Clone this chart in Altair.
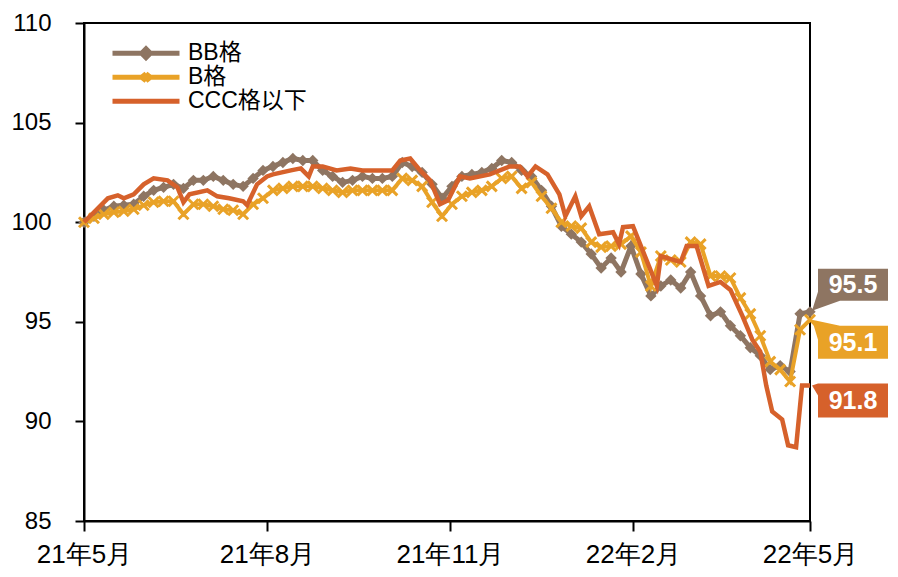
import altair as alt
import pandas as pd

# ---------------- data ----------------
series_names = ["BB格", "B格", "CCC格以下"]
series_colors = ["#8E7562", "#E9A227", "#D6612B"]

start_date = "2021-05-01"

# BB and B read every 5 days from the start date
grid_days = list(range(0, 366, 5))
bb_values = [
    100.0, 100.3, 100.6, 100.8, 100.85, 100.9, 101.3, 101.6, 101.75, 101.9,
    101.7, 102.1, 102.1, 102.3, 102.1, 101.9, 101.8, 102.2, 102.6, 102.8,
    103.0, 103.2, 103.1, 103.1, 102.6, 102.3, 102.0, 102.1, 102.3, 102.2,
    102.2, 102.3, 103.0, 102.8, 102.5, 101.9, 101.2, 101.8, 102.3, 102.4,
    102.5, 102.7, 103.1, 103.0, 102.6, 102.3, 101.6, 100.8, 99.8, 99.4,
    99.0, 98.4, 97.7, 98.2, 97.5, 98.8, 97.4, 96.3, 96.8, 97.1,
    96.7, 97.5, 96.3, 95.3, 95.5, 94.8, 94.3, 93.7, 93.3, 92.6,
    92.8, 92.5, 95.4, 95.5,
]
b_values = [
    100.0, 100.2, 100.4, 100.5, 100.55, 100.65, 100.85, 101.0, 101.05, 101.05,
    100.4, 100.9, 100.9, 100.8, 100.65, 100.6, 100.4, 100.9, 101.2, 101.6,
    101.7, 101.8, 101.8, 101.8, 101.7, 101.6, 101.5, 101.6, 101.6, 101.6,
    101.6, 101.6, 102.2, 102.1, 101.8, 101.0, 100.3, 100.9, 101.3, 101.5,
    101.6, 101.8, 102.2, 102.3, 101.7, 102.0, 101.3, 100.7, 100.0, 99.8,
    99.7, 99.0, 98.75, 98.8, 98.9, 99.3, 98.5, 96.8, 98.3, 98.1,
    98.0, 99.0, 98.9, 97.3, 97.3, 97.2, 96.2, 95.4, 94.3, 93.0,
    92.6, 92.0, 94.6, 95.1,
]

# CCC read at its own turning points (days after the start date)
ccc_days = [
    0, 4, 12, 17, 20, 25, 30, 35, 42, 47, 50, 53, 62, 67, 73, 80, 82, 87, 92, 95,
    104, 109, 113, 115, 120, 127, 134, 140, 147, 155, 159, 164, 169, 174, 179, 183,
    189, 194, 204, 214, 219, 223, 227, 233, 239, 242, 247, 250, 254, 259, 266, 269,
    271, 276, 280, 288, 290, 300, 303, 308, 314, 320, 325, 331, 336, 340, 343, 346,
    351, 354, 358, 361, 365,
]
ccc_values = [
    100.0, 100.4, 101.2, 101.35, 101.2, 101.4, 101.9, 102.2, 102.1, 101.75, 101.0,
    101.4, 101.6, 101.3, 101.2, 101.05, 100.85, 101.9, 102.3, 102.4,
    102.6, 102.7, 102.3, 102.8, 102.8, 102.6, 102.7, 102.6, 102.6, 102.6, 103.1,
    103.2, 102.6, 102.1, 100.9, 101.1,
    102.3, 102.2, 102.4, 102.8, 102.8, 102.3, 102.8, 102.4, 101.4, 100.3, 101.3,
    100.3, 100.8, 99.4, 99.5, 98.9,
    99.75, 99.8, 98.8, 96.8, 98.3, 98.0, 98.8, 98.8, 96.8, 97.0, 96.6, 95.3, 94.1,
    93.5, 91.8, 90.5,
    90.1, 88.8, 88.7, 91.8, 91.8,
]

x_tick_dates = [(2021, 5), (2021, 8), (2021, 11), (2022, 2), (2022, 5)]
y_ticks = [85, 90, 95, 100, 105, 110]

# ---------------- styles ----------------
NARROW = "Liberation Sans Narrow, Arial Narrow, Liberation Sans, Arial"
SANS = "Liberation Sans, Arial, Noto Sans CJK SC"
S = 100  # callout path unit in px (size = (2*S)^2)
callout_paths = {
    "BB格": "M0.02,-0.01L0.08,-0.2L0.08,-0.43L0.78,-0.43L0.78,-0.11L0.3,-0.11Z",
    "B格": "M0.02,0L0.3,0.06L0.78,0.06L0.78,0.39L0.08,0.39L0.08,0.2Z",
    "CCC格以下": "M0.02,0L0.08,-0.02L0.78,-0.02L0.78,0.32L0.08,0.32L0.08,0.1Z",
}
callout_text_offset = {"BB格": (43, -27), "B格": (43, 23), "CCC格以下": (43, 15)}
legend_paths = [
    "M-1,0H1M-0.13,0L0,-0.13L0.13,0L0,0.13Z",
    "M-1,0H1M-0.1,-0.12L0.1,0.12M-0.1,0.12L0.1,-0.12",
    "M-1,0H1",
]
x_marker_path = "M-1,-1L1,1M-1,1L1,-1"


def frame(name, days, values):
    return pd.DataFrame({
        "date": pd.Timestamp(start_date) + pd.to_timedelta(days, unit="D"),
        "series": name,
        "value": values,
    })


bb_df = frame(series_names[0], grid_days, bb_values)
b_df = frame(series_names[1], grid_days, b_values)
ccc_df = frame(series_names[2], ccc_days, ccc_values)
all_df = pd.concat([bb_df, b_df, ccc_df], ignore_index=True)

x_enc = alt.X(
    "date:T",
    scale=alt.Scale(domain=[alt.DateTime(year=2021, month=5, date=1),
                            alt.DateTime(year=2022, month=5, date=1)]),
    axis=alt.Axis(
        values=[alt.DateTime(year=y, month=m, date=1) for y, m in x_tick_dates],
        format="%y年%-m月", formatType="time", title=None,
        labelFont=NARROW, labelFontSize=26, labelPadding=10, tickSize=10,
        labelFlush=False, labelOverlap=False, labelBound=False,
    ),
)
y_enc = alt.Y(
    "value:Q",
    scale=alt.Scale(domain=[85, 110], nice=False, zero=False),
    axis=alt.Axis(values=y_ticks, title=None, labelFont=NARROW, labelFontSize=24,
                  labelPadding=24, tickSize=9),
)

bb_line = alt.Chart(bb_df).mark_line(color=series_colors[0], strokeWidth=5).encode(x=x_enc, y=y_enc)
bb_pts = alt.Chart(bb_df).mark_point(shape="diamond", filled=True, size=130, opacity=1,
                                     color=series_colors[0]).encode(x=x_enc, y=y_enc)
b_line = alt.Chart(b_df).mark_line(color=series_colors[1], strokeWidth=4).encode(x=x_enc, y=y_enc)
b_pts = alt.Chart(b_df).mark_point(shape=x_marker_path, filled=False, size=100, opacity=1,
                                   strokeWidth=3, color=series_colors[1]).encode(x=x_enc, y=y_enc)
ccc_line = alt.Chart(ccc_df).mark_line(color=series_colors[2], strokeWidth=4.5).encode(x=x_enc, y=y_enc)

legend = alt.Legend(
    orient="none", legendX=26, legendY=19, title=None,
    labelFont=SANS, labelFontSize=23, labelColor="black", labelOffset=6,
    symbolSize=4489, symbolStrokeWidth=5, symbolOpacity=1,
    padding=0, rowPadding=0, clipHeight=22.5,
)
legend_layer = alt.Chart(all_df).transform_filter("false").mark_point(filled=True, opacity=1).encode(
    x=x_enc, y=y_enc,
    shape=alt.Shape("series:N", scale=alt.Scale(domain=series_names, range=legend_paths), legend=legend),
    stroke=alt.Stroke("series:N", scale=alt.Scale(domain=series_names, range=series_colors), legend=legend),
    fill=alt.Fill("series:N", scale=alt.Scale(domain=series_names, range=series_colors), legend=legend),
)

layers = [bb_line, bb_pts, b_line, b_pts, ccc_line, legend_layer]

for name, color, df in zip(series_names, series_colors, [bb_df, b_df, ccc_df]):
    end = df.tail(1).copy()
    end["label"] = end["value"].map(lambda v: f"{v:.1f}")
    dx, dy = callout_text_offset[name]
    box = alt.Chart(end).mark_point(shape=callout_paths[name], size=(2 * S) ** 2, filled=True,
                                    opacity=1, color=color).encode(x=x_enc, y=y_enc)
    txt = alt.Chart(end).mark_text(dx=dx, dy=dy, color="white", fontWeight="bold", fontSize=25,
                                   font=SANS, align="center", baseline="middle").encode(
        x=x_enc, y=y_enc, text="label:N")
    layers += [box, txt]

chart = alt.layer(*layers).properties(
    width=726, height=498,
    autosize=alt.AutoSizeParams(type="none"),
    padding={"left": 76, "top": 15, "right": 80, "bottom": 48},
).configure_axis(
    domainColor="black", domainWidth=2, tickColor="black", tickWidth=2,
    grid=False, labelColor="black",
).configure_view(stroke="black", strokeWidth=2)

chart.save("out.html", embed_options={"renderer": "svg", "actions": False})
